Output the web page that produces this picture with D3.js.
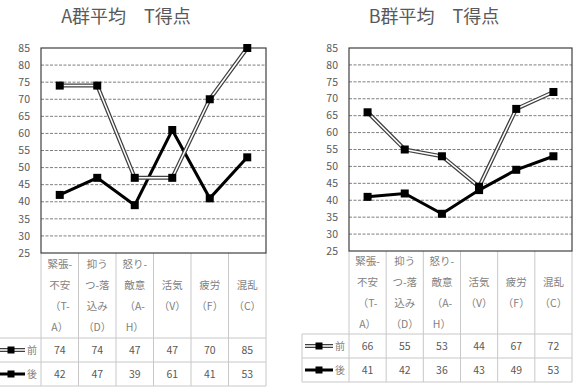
<!DOCTYPE html>
<html>
<head>
<meta charset="utf-8">
<script src="https://cdn.jsdelivr.net/npm/d3@7"></script>
<style>
  body { margin: 0; background: #fff; }
  svg { display: block; font-family: "Noto Sans CJK JP", "Noto Sans", sans-serif; }
</style>
</head>
<body>
<svg id="chart" width="576" height="392"></svg>
<script>
// categories (header lines as shown in the table)
const categories = ['T-A', 'D', 'A-H', 'V', 'F', 'C']
const categoryLines = [
    ['緊張-', '不安', '（T-', 'A）'],
    ['抑う', 'つ-落', '込み', '（D）'],
    ['怒り-', '敵意', '（A-', 'H）'],
    ['活気', '（V）'],
    ['疲労', '（F）'],
    ['混乱', '（C）']
]
const yTicks = [25, 30, 35, 40, 45, 50, 55, 60, 65, 70, 75, 80, 85]
const seriesNames = ['前', '後']

const groupA_before = [74, 74, 47, 47, 70, 85]
const groupA_after = [42, 47, 39, 61, 41, 53]
const groupB_before = [66, 55, 53, 44, 67, 72]
const groupB_after = [41, 42, 36, 43, 49, 53]

const titles = ['A群平均　T得点', 'B群平均　T得点']

const svg = d3.select('#chart')
const textColor = '#595959'

function drawPanel(cfg) {
    const g = svg.append('g')

    const x = d3.scaleBand().domain(categories).range([cfg.left, cfg.right])
    const y = d3.scaleLinear().domain([25, 85]).range([cfg.bottom, cfg.top])

    // title
    g.append('text')
        .attr('x', cfg.titleX)
        .attr('y', 23)
        .attr('text-anchor', 'middle')
        .attr('font-size', 18)
        .attr('fill', textColor)
        .text(cfg.title)

    // dashed grid lines
    g.append('g').selectAll('line')
        .data(yTicks.filter(t => t > 25 && t < 85))
        .join('line')
        .attr('x1', cfg.left).attr('x2', cfg.right)
        .attr('y1', d => y(d)).attr('y2', d => y(d))
        .attr('stroke', '#7f7f7f')
        .attr('stroke-width', 1)
        .attr('stroke-dasharray', '3,1.5')

    // y tick labels
    g.append('g').selectAll('text')
        .data(yTicks)
        .join('text')
        .attr('x', cfg.left - 11)
        .attr('y', d => y(d))
        .attr('dy', '0.35em')
        .attr('text-anchor', 'end')
        .attr('font-size', 10.5)
        .attr('fill', textColor)
        .text(d => d)

    // table
    const rowY = [cfg.bottom, cfg.headBottom, cfg.row1Bottom, cfg.row2Bottom]
    const tg = g.append('g').attr('stroke', '#c8c8c8').attr('stroke-width', 1)
    tg.selectAll('.hline')
        .data(rowY.slice(1))
        .join('line')
        .attr('x1', cfg.tableLeft)
        .attr('x2', cfg.right)
        .attr('y1', d => d).attr('y2', d => d)
    // vertical column lines
    const colEdges = categories.map(c => x(c)).concat([cfg.right])
    tg.selectAll('.vline')
        .data(colEdges)
        .join('line')
        .attr('x1', d => d).attr('x2', d => d)
        .attr('y1', cfg.bottom).attr('y2', cfg.row2Bottom)
    if (cfg.legendBorder) {
        tg.append('line')
            .attr('x1', cfg.tableLeft).attr('x2', cfg.tableLeft)
            .attr('y1', cfg.headBottom).attr('y2', cfg.row2Bottom)
    }

    // header labels
    const headCenter = (cfg.bottom + cfg.headBottom) / 2
    const lineGap = 21
    categories.forEach((c, i) => {
        const lines = categoryLines[i]
        const y0 = headCenter - (lines.length - 1) * lineGap / 2
        g.append('g').selectAll('text')
            .data(lines)
            .join('text')
            .attr('x', x(c) + x.bandwidth() / 2)
            .attr('y', (d, j) => y0 + j * lineGap)
            .attr('dy', '0.35em')
            .attr('text-anchor', 'middle')
            .attr('font-size', 10.5)
            .attr('fill', '#7f7f7f')
            .text(d => d)
    })

    // table values
    const rows = [cfg.before, cfg.after]
    rows.forEach((vals, r) => {
        const cy = (rowY[r + 1] + rowY[r + 2]) / 2
        g.append('g').selectAll('text')
            .data(vals)
            .join('text')
            .attr('x', (d, i) => x(categories[i]) + x.bandwidth() / 2)
            .attr('y', cy)
            .attr('dy', '0.35em')
            .attr('text-anchor', 'middle')
            .attr('font-size', 10.5)
            .attr('fill', textColor)
            .text(d => d)

        // legend key
        const lx1 = cfg.legendX, lx2 = cfg.legendX + 28
        if (r === 0) {
            g.append('line').attr('x1', lx1).attr('x2', lx2).attr('y1', cy).attr('y2', cy)
                .attr('stroke', '#404040').attr('stroke-width', 4)
            g.append('line').attr('x1', lx1).attr('x2', lx2).attr('y1', cy).attr('y2', cy)
                .attr('stroke', '#fff').attr('stroke-width', 1.5)
        } else {
            g.append('line').attr('x1', lx1).attr('x2', lx2).attr('y1', cy).attr('y2', cy)
                .attr('stroke', '#000').attr('stroke-width', 3)
        }
        g.append('rect')
            .attr('x', (lx1 + lx2) / 2 - 3.5).attr('y', cy - 3.5)
            .attr('width', 7).attr('height', 7)
            .attr('fill', '#000')
        g.append('text')
            .attr('x', lx2 + 2)
            .attr('y', cy)
            .attr('dy', '0.35em')
            .attr('font-size', 10)
            .attr('fill', '#7f7f7f')
            .text(seriesNames[r])
    })

    // plot border
    g.append('rect')
        .attr('x', cfg.left).attr('y', cfg.top)
        .attr('width', cfg.right - cfg.left).attr('height', cfg.bottom - cfg.top)
        .attr('fill', 'none')
        .attr('stroke', '#404040')
        .attr('stroke-width', 1.2)

    const line = d3.line()
        .x((d, i) => x(categories[i]) + x.bandwidth() / 2)
        .y(d => y(d))

    // 後 series: solid black
    g.append('path')
        .datum(cfg.after)
        .attr('d', line)
        .attr('fill', 'none')
        .attr('stroke', '#000')
        .attr('stroke-width', 3)

    // 前 series: double line
    g.append('path')
        .datum(cfg.before)
        .attr('d', line)
        .attr('fill', 'none')
        .attr('stroke', '#404040')
        .attr('stroke-width', 4)
    g.append('path')
        .datum(cfg.before)
        .attr('d', line)
        .attr('fill', 'none')
        .attr('stroke', '#fff')
        .attr('stroke-width', 1.5)

    // markers
    ;[cfg.after, cfg.before].forEach(vals => {
        g.append('g').selectAll('rect')
            .data(vals)
            .join('rect')
            .attr('x', (d, i) => x(categories[i]) + x.bandwidth() / 2 - 4)
            .attr('y', d => y(d) - 4)
            .attr('width', 8).attr('height', 8)
            .attr('fill', '#000')
    })
}

drawPanel({
    title: titles[0], titleX: 126,
    left: 41, right: 266, top: 48, bottom: 253,
    headBottom: 338, row1Bottom: 362, row2Bottom: 386,
    tableLeft: 0, legendX: -3, legendBorder: false,
    before: groupA_before, after: groupA_after
})

drawPanel({
    title: titles[1], titleX: 434,
    left: 349, right: 572, top: 48, bottom: 251,
    headBottom: 334, row1Bottom: 358, row2Bottom: 382,
    tableLeft: 302, legendX: 305, legendBorder: true,
    before: groupB_before, after: groupB_after
})
</script>
</body>
</html>
